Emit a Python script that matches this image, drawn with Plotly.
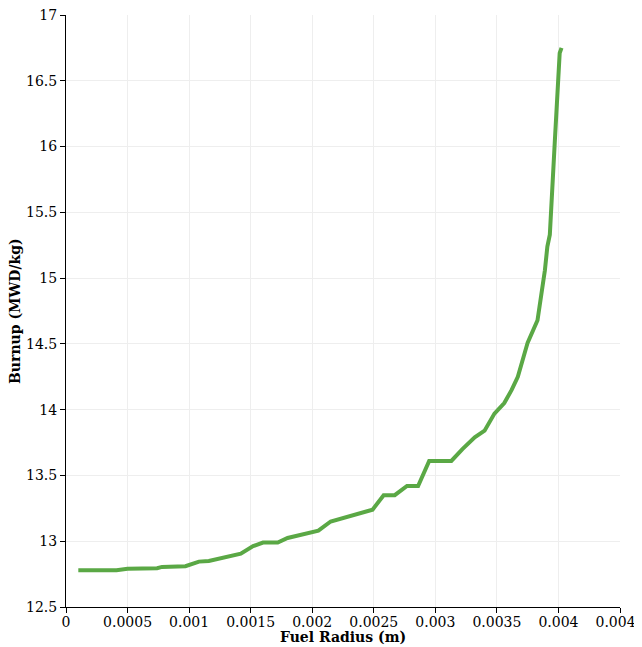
import plotly.graph_objects as go

radius = [0.0001, 0.00041, 0.0005, 0.00074, 0.00078, 0.00097, 0.00108, 0.00116,
          0.00142, 0.00152, 0.0016, 0.00172, 0.0018, 0.00201, 0.00205, 0.00215,
          0.00223, 0.00249, 0.00258, 0.00267, 0.00277, 0.00286, 0.00295, 0.00313,
          0.00322, 0.00332, 0.0034, 0.00348, 0.00356, 0.00362, 0.00367, 0.00371,
          0.00375, 0.00383, 0.00386, 0.00389, 0.00391, 0.00393, 0.00397, 0.00401,
          0.004025]
burnup = [12.78, 12.78, 12.79, 12.795, 12.805, 12.81, 12.845, 12.85,
          12.905, 12.963, 12.99, 12.99, 13.025, 13.07, 13.08, 13.15,
          13.17, 13.24, 13.35, 13.35, 13.42, 13.42, 13.61, 13.61,
          13.70, 13.79, 13.84, 13.97, 14.05, 14.15, 14.25, 14.38,
          14.51, 14.68, 14.86, 15.06, 15.24, 15.33, 16.03, 16.71,
          16.75]

x_ticks = [0, 0.0005, 0.001, 0.0015, 0.002, 0.0025, 0.003, 0.0035, 0.004, 0.0045]
x_labels = ["0", "0.0005", "0.001", "0.0015", "0.002", "0.0025", "0.003", "0.0035", "0.004", "0.0045"]
y_ticks = [12.5, 13, 13.5, 14, 14.5, 15, 15.5, 16, 16.5, 17]
y_labels = ["12.5", "13", "13.5", "14", "14.5", "15", "15.5", "16", "16.5", "17"]
x_title = "Fuel Radius (m)"
y_title = "Burnup (MWD/kg)"

fig = go.Figure()
fig.add_trace(go.Scatter(x=radius, y=burnup, mode="lines",
                         line=dict(color="#5aa845", width=4), showlegend=False))

font_family = "DejaVu Serif"
fig.update_layout(
    width=642, height=647,
    margin=dict(l=58, r=30, t=7, b=48),
    paper_bgcolor="white", plot_bgcolor="white",
    font=dict(family=font_family, size=14, color="#000"),
    xaxis=dict(range=[0, 0.0045], tickvals=x_ticks, ticktext=x_labels,
               automargin=False, ticklabeloverflow="allow", ticklabelstandoff=-3,
               showline=True, linecolor="black", linewidth=1,
               ticks="outside", ticklen=5, tickcolor="black",
               showgrid=True, gridcolor="#eeeeee", zeroline=False),
    yaxis=dict(range=[12.5, 17], tickvals=y_ticks, ticktext=y_labels,
               automargin=False, ticklabeloverflow="allow",
               showline=True, linecolor="black", linewidth=1,
               ticks="outside", ticklen=5, tickcolor="black",
               showgrid=True, gridcolor="#eeeeee", zeroline=False),
    annotations=[
        dict(text="<b>" + x_title + "</b>", xref="paper", yref="paper",
             x=0.5, y=0, yshift=-30, xanchor="center", yanchor="middle",
             showarrow=False, font=dict(size=14, family=font_family)),
        dict(text="<b>" + y_title + "</b>", xref="paper", yref="paper",
             x=0, y=0.5, xshift=-51, xanchor="center", yanchor="middle",
             textangle=-90, showarrow=False, font=dict(size=14, family=font_family)),
    ],
)
fig.write_html("out.html")
